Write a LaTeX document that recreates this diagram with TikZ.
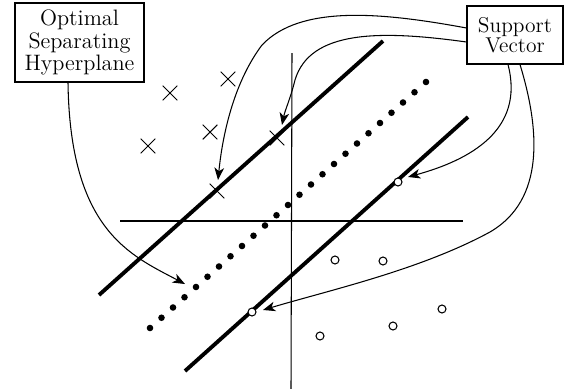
\documentclass[tikz,border=0pt]{standalone}
\usepackage{tikz}
\usetikzlibrary{positioning,arrows.meta,shapes.misc,calc}

\begin{document}
\begin{tikzpicture}[x=0.02cm, y=-0.02cm, >={Stealth[length=7pt, width=5.5pt, inset=2pt]},
  every node/.style={font=\fontsize{12}{13}\selectfont},
  label box/.style={draw, line width=0.6pt, align=center, inner sep=0pt},
  xmark/.style={draw, cross out, minimum size=0.27cm, inner sep=0pt, line width=0.6pt},
  omark/.style={draw, circle, fill=white, minimum size=0.16cm, inner sep=0pt, line width=0.6pt},
  hyper/.style={line width=2.2pt},
  pointer/.style={->, line width=0.6pt}]
  \useasboundingbox (0,0) rectangle (565,389);

  % label boxes
  \node[label box, minimum width=2.58cm, minimum height=1.58cm, font=\fontsize{12.7}{13}\selectfont] (osh) at (79.5,42.5) {Optimal\\Separating\\Hyperplane};
  \node[label box, minimum width=1.92cm, minimum height=1.16cm, font=\fontsize{12.2}{11.5}\selectfont] (sv) at (515,35) {Support\\Vector};

  % axes
  \coordinate (xl) at (120,221);
  \coordinate (xr) at (463,221);
  \coordinate (yt) at (292,53);
  \coordinate (yb) at (291,389);
  \draw[line width=0.6pt] (xl) -- (xr);
  \draw[line width=0.6pt] (yt) -- (yb);

  % margins and separating hyperplane
  \coordinate (up1) at (99,295);
  \coordinate (up2) at (383,41);
  \coordinate (lo1) at (185,371);
  \coordinate (lo2) at (468,117);
  \coordinate (hp1) at (150,328);
  \coordinate (hp2) at (426,82);
  \draw[hyper] (up1) -- (up2);
  \draw[hyper] (lo1) -- (lo2);
  \foreach \i in {0,...,24}
    \fill ($(hp1)!\i/24!(hp2)$) circle[radius=0.066cm];

  % class one
  \node[xmark] (x1) at (148,146) {};
  \node[xmark] (x2) at (170,93) {};
  \node[xmark] (x3) at (210,132) {};
  \node[xmark] (x4) at (228,79) {};
  \node[xmark] (x5) at (277,138) {};
  \node[xmark] (x6) at (217,191) {};

  % class two
  \node[omark] (o1) at (398,182) {};
  \node[omark] (o2) at (335,260) {};
  \node[omark] (o3) at (383,261) {};
  \node[omark] (o4) at (252,312) {};
  \node[omark] (o5) at (320,336) {};
  \node[omark] (o6) at (393,326) {};
  \node[omark] (o7) at (442,309) {};

  % pointers
  \coordinate (t1) at (185,284);
  \coordinate (t2) at (218,180);
  \coordinate (t3) at (282,125);
  \coordinate (t4) at (408,177);
  \coordinate (t5) at (263,310);
  \draw[pointer] ($(osh.south)+(-11.5,0)$) .. controls (70,230) and (130,255) .. (t1);
  \draw[pointer] ($(sv.west)+(0,-7)$) .. controls (380,12) and (300,5) .. (262,45)
    .. controls (232,85) and (222,140) .. (t2);
  \draw[pointer] ($(sv.west)+(0,7)$) .. controls (380,30) and (310,30) .. (295,80)
    .. controls (290,100) and (285,110) .. (t3);
  \draw[pointer] ($(sv.south)+(-7,0)$) .. controls (525,130) and (470,160) .. (t4);
  \draw[pointer] ($(sv.south)+(5,0)$) .. controls (540,130) and (545,200) .. (490,232)
    .. controls (420,270) and (330,290) .. (t5);
\end{tikzpicture}
\end{document}
